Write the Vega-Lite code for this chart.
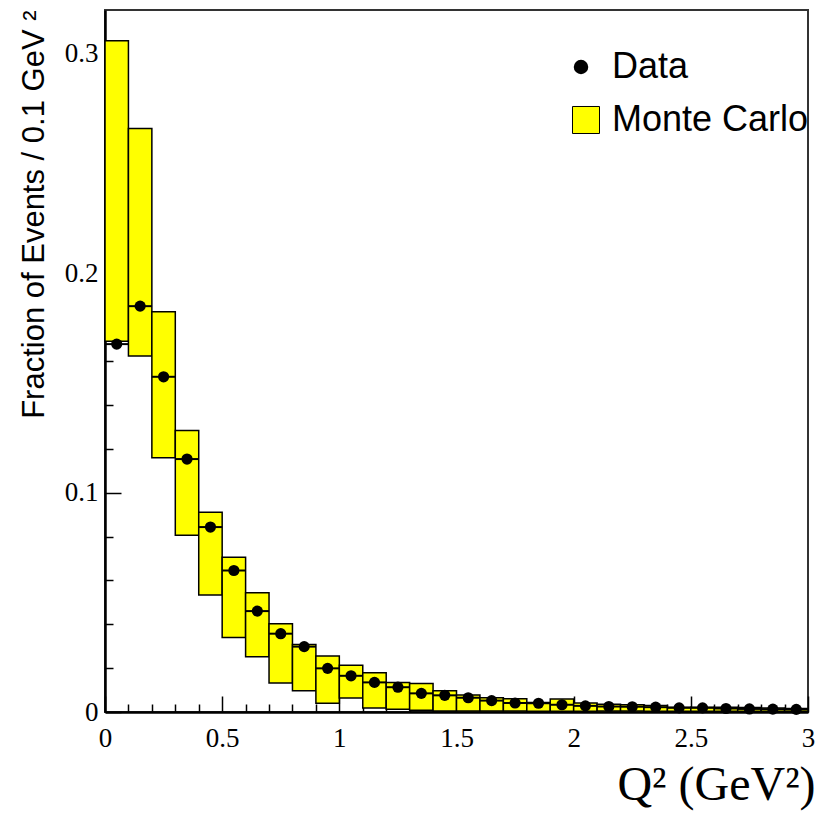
{
  "$schema": "https://vega.github.io/schema/vega-lite/v6.json",
  "autosize": {"type": "none"},
  "padding": {"left": 105, "top": 10, "right": 10, "bottom": 102},
  "width": 703,
  "height": 702,
  "background": "white",
  "config": {
    "view": {"stroke": "#333333", "strokeWidth": 2},
    "axis": {"grid": false, "domainColor": "black", "domainWidth": 2.5, "tickColor": "black", "tickWidth": 1.5, "labelColor": "black", "titleColor": "black"}
  },
  "data": {"values": [
    {"lo": 0.0, "hi": 0.1, "center": 0.05, "mc_low": 0.169, "mc_high": 0.306, "frac": 0.1677},
    {"lo": 0.1, "hi": 0.2, "center": 0.15, "mc_low": 0.1623, "mc_high": 0.266, "frac": 0.185},
    {"lo": 0.2, "hi": 0.3, "center": 0.25, "mc_low": 0.1159, "mc_high": 0.1824, "frac": 0.1528},
    {"lo": 0.3, "hi": 0.4, "center": 0.35, "mc_low": 0.0806, "mc_high": 0.1283, "frac": 0.1153},
    {"lo": 0.4, "hi": 0.5, "center": 0.45, "mc_low": 0.0533, "mc_high": 0.0911, "frac": 0.0843},
    {"lo": 0.5, "hi": 0.6, "center": 0.55, "mc_low": 0.034, "mc_high": 0.0705, "frac": 0.0645},
    {"lo": 0.6, "hi": 0.7, "center": 0.65, "mc_low": 0.0252, "mc_high": 0.0544, "frac": 0.046},
    {"lo": 0.7, "hi": 0.8, "center": 0.75, "mc_low": 0.0132, "mc_high": 0.0402, "frac": 0.0357},
    {"lo": 0.8, "hi": 0.9, "center": 0.85, "mc_low": 0.0097, "mc_high": 0.0308, "frac": 0.0298},
    {"lo": 0.9, "hi": 1.0, "center": 0.95, "mc_low": 0.004, "mc_high": 0.0255, "frac": 0.0199},
    {"lo": 1.0, "hi": 1.1, "center": 1.05, "mc_low": 0.0064, "mc_high": 0.0213, "frac": 0.0165},
    {"lo": 1.1, "hi": 1.2, "center": 1.15, "mc_low": 0.0018, "mc_high": 0.0179, "frac": 0.0135},
    {"lo": 1.2, "hi": 1.3, "center": 1.25, "mc_low": 0.0012, "mc_high": 0.0134, "frac": 0.0113},
    {"lo": 1.3, "hi": 1.4, "center": 1.35, "mc_low": 0.0008, "mc_high": 0.013, "frac": 0.0085},
    {"lo": 1.4, "hi": 1.5, "center": 1.45, "mc_low": 0.0005, "mc_high": 0.0097, "frac": 0.0076},
    {"lo": 1.5, "hi": 1.6, "center": 1.55, "mc_low": 0.0004, "mc_high": 0.0078, "frac": 0.0065},
    {"lo": 1.6, "hi": 1.7, "center": 1.65, "mc_low": 0.0004, "mc_high": 0.0065, "frac": 0.0052},
    {"lo": 1.7, "hi": 1.8, "center": 1.75, "mc_low": 0.0004, "mc_high": 0.006, "frac": 0.0041},
    {"lo": 1.8, "hi": 1.9, "center": 1.85, "mc_low": 0.0003, "mc_high": 0.0043, "frac": 0.004},
    {"lo": 1.9, "hi": 2.0, "center": 1.95, "mc_low": 0.0003, "mc_high": 0.0059, "frac": 0.0033},
    {"lo": 2.0, "hi": 2.1, "center": 2.05, "mc_low": 0.0003, "mc_high": 0.0041, "frac": 0.0028},
    {"lo": 2.1, "hi": 2.2, "center": 2.15, "mc_low": 0.0004, "mc_high": 0.0035, "frac": 0.0025},
    {"lo": 2.2, "hi": 2.3, "center": 2.25, "mc_low": 0.0004, "mc_high": 0.0033, "frac": 0.0024},
    {"lo": 2.3, "hi": 2.4, "center": 2.35, "mc_low": 0.0003, "mc_high": 0.003, "frac": 0.0022},
    {"lo": 2.4, "hi": 2.5, "center": 2.45, "mc_low": 0.0003, "mc_high": 0.0022, "frac": 0.0019},
    {"lo": 2.5, "hi": 2.6, "center": 2.55, "mc_low": 0.0003, "mc_high": 0.0022, "frac": 0.0019},
    {"lo": 2.6, "hi": 2.7, "center": 2.65, "mc_low": 0.0003, "mc_high": 0.0022, "frac": 0.0016},
    {"lo": 2.7, "hi": 2.8, "center": 2.75, "mc_low": 0.0003, "mc_high": 0.002, "frac": 0.0014},
    {"lo": 2.8, "hi": 2.9, "center": 2.85, "mc_low": 0.0003, "mc_high": 0.0018, "frac": 0.0013},
    {"lo": 2.9, "hi": 3.0, "center": 2.95, "mc_low": 0.0003, "mc_high": 0.0016, "frac": 0.0012}
  ]},
  "encoding": {
    "x": {
      "field": "lo", "type": "quantitative",
      "scale": {"domain": [0, 3], "nice": false, "zero": false},
      "axis": {
        "title": "Q² (GeV²)",
        "titleFont": "Liberation Serif", "titleFontSize": 48, "titleFontWeight": "normal",
        "titleAnchor": "end", "titleAlign": "right", "titleBaseline": "alphabetic",
        "titleX": 710, "titleY": 87,
        "values": [0,0.1,0.2,0.3,0.4,0.5,0.6,0.7,0.8,0.9,1,1.1,1.2,1.3,1.4,1.5,1.6,1.7,1.8,1.9,2,2.1,2.2,2.3,2.4,2.5,2.6,2.7,2.8,2.9,3],
        "format": "~g",
        "labelExpr": "abs(datum.value*2 - round(datum.value*2)) < 0.001 ? datum.label : ''",
        "tickSize": {"condition": {"test": "abs(datum.value*2 - round(datum.value*2)) < 0.001", "value": -16}, "value": -8},
        "labelFont": "Liberation Serif", "labelFontSize": 27, "labelPadding": 29,
        "labelFlush": false, "labelOverlap": false
      }
    }
  },
  "layer": [
    {
      "mark": {"type": "bar", "stroke": "black", "strokeWidth": 1.5},
      "encoding": {
        "x2": {"field": "hi"},
        "y": {
          "field": "mc_low", "type": "quantitative",
          "scale": {"domain": [0, 0.32], "nice": false},
          "axis": {
            "title": "Fraction of Events / 0.1 GeV ²",
            "titleFont": "Liberation Sans", "titleFontSize": 31, "titleFontWeight": "normal",
            "titleAngle": 270, "titleAnchor": "end", "titleAlign": "right", "titleBaseline": "middle",
            "titleX": -71, "titleY": 0,
            "values": [0,0.02,0.04,0.06,0.08,0.1,0.12,0.14,0.16,0.18,0.2,0.22,0.24,0.26,0.28,0.3],
            "format": "~g",
            "labelExpr": "abs(datum.value*10 - round(datum.value*10)) < 0.001 ? datum.label : ''",
            "tickSize": {"condition": {"test": "abs(datum.value*10 - round(datum.value*10)) < 0.001", "value": -16}, "value": -8},
            "labelFont": "Liberation Serif", "labelFontSize": 27, "labelPadding": 23,
            "labelFlush": false, "labelOverlap": false
          }
        },
        "y2": {"field": "mc_high"},
        "fill": {
          "datum": "Monte Carlo",
          "scale": {"domain": ["Monte Carlo"], "range": ["#ffff00"]},
          "legend": {
            "title": null, "orient": "none", "legendX": 463, "legendY": 92, "padding": 0,
            "labelFont": "Liberation Sans", "labelFontSize": 36, "labelColor": "black", "labelLimit": 400,
            "labelOffset": 8, "symbolType": "square", "symbolSize": 730,
            "symbolStrokeColor": "black", "symbolStrokeWidth": 1, "symbolOpacity": 1
          }
        }
      }
    },
    {
      "mark": {"type": "rule", "color": "black", "strokeWidth": 2},
      "encoding": {
        "x2": {"field": "hi"},
        "y": {"field": "frac", "type": "quantitative"}
      }
    },
    {
      "mark": {"type": "point", "filled": true, "opacity": 1, "size": 125, "color": "black"},
      "encoding": {
        "x": {"field": "center", "type": "quantitative"},
        "y": {"field": "frac", "type": "quantitative"},
        "shape": {
          "datum": "Data",
          "scale": {"domain": ["Data"], "range": ["circle"]},
          "legend": {
            "title": null, "orient": "none", "legendX": 458, "legendY": 39, "padding": 0,
            "labelFont": "Liberation Sans", "labelFontSize": 36, "labelColor": "black", "labelLimit": 400,
            "labelOffset": 13, "symbolSize": 210, "symbolFillColor": "black", "symbolStrokeWidth": 0, "symbolOpacity": 1
          }
        }
      }
    }
  ]
}
